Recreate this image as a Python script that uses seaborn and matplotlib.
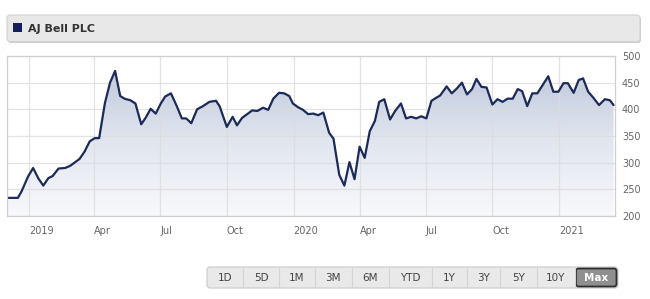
import numpy as np
import pandas as pd
import matplotlib
matplotlib.use("Agg")
import matplotlib.pyplot as plt
import matplotlib.dates as mdates
import seaborn as sns
from matplotlib.patches import FancyBboxPatch, Rectangle
from matplotlib.colors import LinearSegmentedColormap

# ---------------- data ----------------
dates = [
    "2018-12-02", "2018-12-17", "2018-12-22", "2018-12-31", "2019-01-07", "2019-01-14",
    "2019-01-21", "2019-01-28", "2019-02-03", "2019-02-11", "2019-02-20", "2019-02-27",
    "2019-03-05", "2019-03-12", "2019-03-19", "2019-03-26", "2019-04-02", "2019-04-08",
    "2019-04-16", "2019-04-23", "2019-04-30", "2019-05-07", "2019-05-13", "2019-05-21",
    "2019-05-28", "2019-06-05", "2019-06-11", "2019-06-18", "2019-06-25", "2019-07-02",
    "2019-07-08", "2019-07-16", "2019-07-24", "2019-07-31", "2019-08-06", "2019-08-13",
    "2019-08-21", "2019-08-29", "2019-09-07", "2019-09-16", "2019-09-21", "2019-10-01",
    "2019-10-09", "2019-10-15", "2019-10-22", "2019-10-29", "2019-11-05", "2019-11-12",
    "2019-11-20", "2019-11-27", "2019-12-04", "2019-12-12", "2019-12-19", "2019-12-26",
    "2019-12-31", "2020-01-07", "2020-01-14", "2020-01-21", "2020-01-28", "2020-02-04",
    "2020-02-11", "2020-02-19", "2020-02-25", "2020-03-04", "2020-03-11", "2020-03-18",
    "2020-03-25", "2020-04-01", "2020-04-08", "2020-04-15", "2020-04-22", "2020-04-28",
    "2020-05-05", "2020-05-13", "2020-05-20", "2020-05-28", "2020-06-04", "2020-06-11",
    "2020-06-18", "2020-06-25", "2020-07-02", "2020-07-09", "2020-07-16", "2020-07-21",
    "2020-07-30", "2020-08-06", "2020-08-13", "2020-08-20", "2020-08-27", "2020-09-03",
    "2020-09-09", "2020-09-16", "2020-09-23", "2020-10-01", "2020-10-08", "2020-10-15",
    "2020-10-22", "2020-10-29", "2020-11-05", "2020-11-11", "2020-11-18", "2020-11-25",
    "2020-12-02", "2020-12-10", "2020-12-17", "2020-12-24", "2020-12-31", "2021-01-07",
    "2021-01-13", "2021-01-21", "2021-01-28", "2021-02-03", "2021-02-10", "2021-02-17",
    "2021-02-25", "2021-03-05", "2021-03-12", "2021-03-17",
]
prices = [
    234, 234, 246, 274, 290, 271,
    257, 271, 275, 289, 290, 294,
    300, 307, 321, 340, 346, 346,
    412, 450, 472, 425, 420, 417,
    411, 372, 384, 401, 392, 411,
    424, 430, 406, 383, 383, 374,
    400, 406, 414, 416, 406, 367,
    386, 370, 384, 391, 398, 397,
    403, 399, 420, 431, 430, 425,
    411, 404, 399, 391, 392, 389,
    394, 356, 345, 277, 257, 301,
    269, 330, 309, 359, 378, 414,
    419, 381, 397, 411, 383, 386,
    383, 387, 383, 416, 422, 426,
    443, 430, 439, 450, 428, 438,
    457, 442, 441, 409, 419, 414,
    420, 420, 438, 434, 406, 430,
    430, 447, 462, 433, 433, 449,
    449, 431, 455, 458, 433, 422,
    408, 419, 417, 408,
]
x_tick_dates = ["2019-01-01", "2019-04-01", "2019-07-01", "2019-10-01", "2020-01-01",
                "2020-04-01", "2020-07-01", "2020-10-01", "2021-01-01"]
x_tick_labels = ["2019", "Apr", "Jul", "Oct", "2020", "Apr", "Jul", "Oct", "2021"]
y_ticks = [200, 250, 300, 350, 400, 450, 500]
title = "AJ Bell PLC"
ranges = ["1D", "5D", "1M", "3M", "6M", "YTD", "1Y", "3Y", "5Y", "10Y", "Max"]
selected = "Max"

# ---------------- style ----------------
sns.set_style("white")
plt.rcParams["font.family"] = ["DejaVu Sans"]

fig = plt.figure(figsize=(6.5, 2.99), dpi=100)
fig.patch.set_facecolor("white")

bg = fig.add_axes([0, 0, 1, 1])
bg.set_xlim(0, 650)
bg.set_ylim(299, 0)
bg.axis("off")
bg.set_zorder(0)

ax = fig.add_axes([7 / 650, 1 - 216 / 299, 608 / 650, 160 / 299])
ax.set_zorder(1)
ax.set_facecolor("white")

df = pd.DataFrame({"date": pd.to_datetime(dates), "price": prices})
xmin = pd.Timestamp("2018-12-02")
xmax = pd.Timestamp("2021-03-19")

line_color = "#1c2a57"
sns.lineplot(data=df, x="date", y="price", ax=ax, color=line_color, lw=1.6, zorder=4)

# gradient fill under the line
cmap = LinearSegmentedColormap.from_list("g", ["#f8f9fc", "#dfe4ee", "#b9c3d8"])
grad = np.linspace(0, 1, 256).reshape(-1, 1)
im = ax.imshow(grad, extent=[mdates.date2num(xmin), mdates.date2num(xmax), 200, 500],
               aspect="auto", origin="lower", cmap=cmap, zorder=2)
poly = ax.fill_between(df["date"], df["price"], 200, facecolor="none", edgecolor="none")
im.set_clip_path(poly.get_paths()[0], transform=ax.transData)

ax.set_xlim(xmin, xmax)
ax.set_ylim(200, 500)
ax.set_xlabel("")
ax.set_ylabel("")

ax.yaxis.tick_right()
ax.set_yticks(y_ticks)
ax.tick_params(axis="y", length=0, pad=5, labelsize=7, labelcolor="#666666")
ax.set_xticks(pd.to_datetime(x_tick_dates))
ax.set_xticklabels(x_tick_labels, ha="left")
ax.tick_params(axis="x", length=0, pad=7, labelsize=7, labelcolor="#666666")

ax.set_axisbelow(False)
ax.grid(True, color="#dcdcdc", lw=0.9, alpha=0.8)
for gl in ax.get_xgridlines() + ax.get_ygridlines():
    gl.set_zorder(3)
for s in ax.spines.values():
    s.set_visible(True)
    s.set_color("#cfcfcf")
    s.set_linewidth(0.9)
    s.set_zorder(5)

# ---------------- header ----------------
bg.add_patch(FancyBboxPatch((8, 16.5), 633, 26.5, boxstyle="round,pad=0,rounding_size=3",
                            fc="#cdcdcd", ec="none"))
bg.add_patch(FancyBboxPatch((7, 15), 633, 26.5, boxstyle="round,pad=0,rounding_size=3",
                            fc="#e8e8e8", ec="#d2d2d2", lw=0.8))
bg.add_patch(Rectangle((12.5, 22.5), 9.5, 9.5, fc="#151f5c", ec="none"))
bg.text(28, 28.5, title, fontsize=8, fontweight="bold", color="#333333", va="center", ha="left")

# ---------------- range buttons ----------------
edges = [207, 243.3, 279, 315, 351.7, 389, 431.7, 466.7, 500, 536.7, 575, 618]
bg.add_patch(FancyBboxPatch((207, 267), 411, 21, boxstyle="round,pad=0,rounding_size=3",
                            fc="#e9e9e9", ec="#c9c9c9", lw=0.8))
for i, lab in enumerate(ranges):
    x0, x1 = edges[i], edges[i + 1]
    if i > 0:
        bg.plot([x0, x0], [268, 287], color="#d4d4d4", lw=0.8)
    if lab == selected:
        bg.add_patch(FancyBboxPatch((x0 + 1, 268.5), x1 - x0 - 2.5, 18,
                                    boxstyle="round,pad=0,rounding_size=2.5",
                                    fc="#8f8f8f", ec="#2e2e2e", lw=1.3))
        bg.text((x0 + x1) / 2, 278, lab, fontsize=7.5, fontweight="bold", color="white",
                ha="center", va="center")
    else:
        bg.text((x0 + x1) / 2, 278, lab, fontsize=7.5, color="#444444",
                ha="center", va="center")

fig.savefig("out.png", dpi=100, facecolor="white")
